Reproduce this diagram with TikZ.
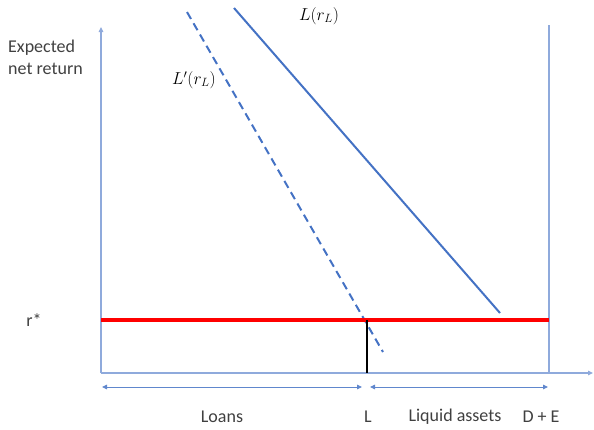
\documentclass[tikz,border=0pt]{standalone}
\usepackage{fontspec}
\setmainfont{Carlito}
\usetikzlibrary{arrows.meta}
\definecolor{axisblue}{RGB}{143,170,220}
\definecolor{lineblue}{RGB}{68,114,196}
\definecolor{txt}{RGB}{64,64,64}
\begin{document}
\begin{tikzpicture}[x=1pt,y=-1pt,
  axis/.style={draw=axisblue,line width=1.2pt},
  tip/.style={-{Triangle[length=5pt,width=4.5pt]}},
  dbl/.style={draw=lineblue!85,line width=0.9pt,{Triangle[length=5pt,width=4.5pt]}-{Triangle[length=5pt,width=4.5pt]}},
  lbl/.style={font=\fontsize{18}{22}\selectfont,text=txt,inner sep=0pt},
  mlbl/.style={font=\fontsize{18.5}{20}\selectfont,inner sep=0pt}]
\useasboundingbox (0,0) rectangle (594,429);
% axes
\coordinate (O) at (101,373);
\coordinate (ytop) at (101,27);
\coordinate (xend) at (593,373);
\draw[axis,tip] (O) -- (ytop);
\draw[axis,tip] (O) -- (xend);
\coordinate (DEtop) at (549,25);
\coordinate (DEbot) at (549,373);
\draw[axis] (DEbot) -- (DEtop);
% curves
\coordinate (La) at (234,8);
\coordinate (Lb) at (500,313);
\draw[lineblue,line width=2pt] (La) -- (Lb);
\coordinate (Lpa) at (187,12);
\coordinate (Lpb) at (383,352);
\draw[lineblue,line width=2pt,dash pattern=on 8pt off 5pt] (Lpa) -- (Lpb);
% r* line
\coordinate (Ra) at (101,320);
\coordinate (Rb) at (549,320);
\draw[red,line width=4.5pt] (Ra) -- (Rb);
\coordinate (Ltop) at (367,320);
\coordinate (Lbot) at (367,373);
\draw[black,line width=2.8pt] (Ltop) -- (Lbot);
% bracket arrows
\coordinate (a1) at (102,387);
\coordinate (a2) at (362,387);
\coordinate (a3) at (370,387);
\coordinate (a4) at (548,387);
\draw[dbl] (a1) -- (a2);
\draw[dbl] (a3) -- (a4);
% labels
\node[lbl,align=left,anchor=west] (ylab) at (8,57) {Expected\\net return};
\node[lbl] (rstar) at (34,320) {r*};
\node[lbl] (loans) at (222,417) {Loans};
\node[lbl] (Llab) at (368,417) {L};
\node[lbl] (liq) at (455,417) {Liquid assets};
\node[lbl] (de) at (541,417) {D + E};
\node[mlbl] (Lr) at (319,16) {$L(r_L)$};
\node[mlbl] (Lpr) at (194,80) {$L'(r_L)$};
\end{tikzpicture}
\end{document}
